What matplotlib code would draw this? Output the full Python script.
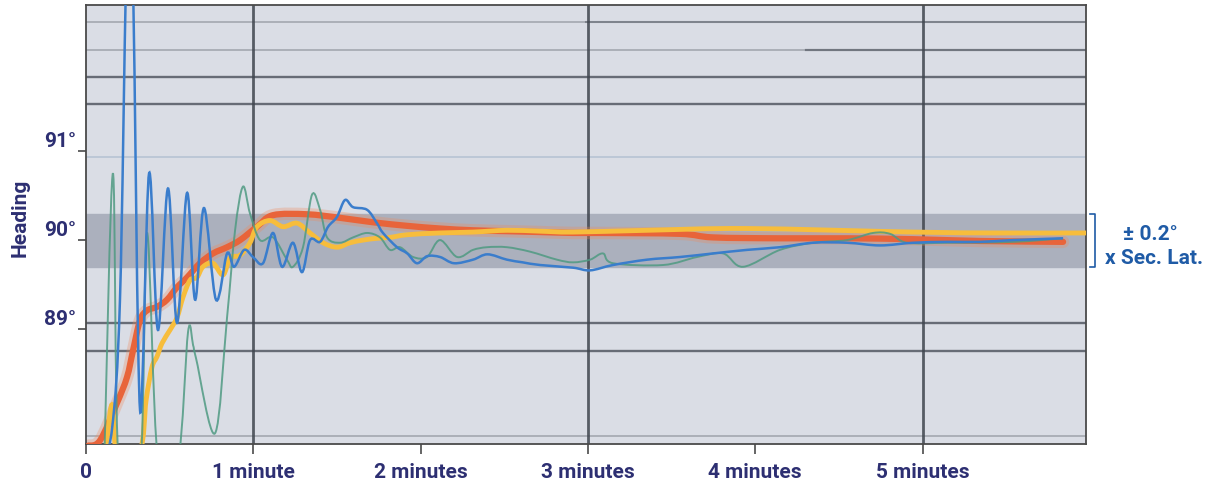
import numpy as np
import matplotlib
matplotlib.use('Agg')
import matplotlib.pyplot as plt
from matplotlib.path import Path
from matplotlib.patches import PathPatch

# heading traces, time in minutes, heading in degrees
red_t = [0.012, 0.084, 0.185, 0.245, 0.281, 0.323, 0.365, 0.424, 0.484, 0.544, 0.604, 0.681, 0.759, 0.843, 0.921,
         1.022, 1.118, 1.321, 1.518, 1.715, 1.919, 2.116, 2.313, 2.516, 2.714, 2.911, 3.072, 3.551, 3.748, 4.148,
         4.549, 4.943, 5.344, 5.840]
red_h = [87.69, 87.75, 88.17, 88.46, 88.76, 89.10, 89.21, 89.25, 89.33, 89.47, 89.58, 89.74, 89.85, 89.92, 90.00,
         90.15, 90.28, 90.29, 90.25, 90.20, 90.16, 90.13, 90.11, 90.10, 90.09, 90.08, 90.08, 90.07, 90.03, 90.02,
         90.02, 90.01, 89.99, 89.98]

yel_t = [0.114, 0.155, 0.191, 0.323, 0.359, 0.394, 0.424, 0.454, 0.502, 0.544, 0.580, 0.622, 0.663, 0.699, 0.759,
         0.819, 0.861, 0.921, 0.980, 1.022, 1.100, 1.178, 1.261, 1.339, 1.417, 1.500, 1.578, 1.656, 1.739, 1.817,
         1.919, 2.116, 2.313, 2.516, 2.714, 2.911, 3.353, 3.951, 4.943, 5.463, 5.977]
yel_h = [87.53, 88.15, 87.53, 87.64, 88.20, 88.57, 88.69, 88.84, 88.99, 89.13, 89.36, 89.55, 89.58, 89.70, 89.74,
         89.61, 89.80, 89.83, 89.97, 90.15, 90.22, 90.15, 90.19, 90.08, 89.97, 89.92, 89.97, 90.00, 90.02, 90.03,
         90.06, 90.08, 90.09, 90.11, 90.10, 90.09, 90.11, 90.13, 90.09, 90.08, 90.08]

grn_t = [0.108, 0.161, 0.197, 0.323, 0.365, 0.430, 0.550, 0.610, 0.640, 0.658, 0.771, 0.843, 0.891, 0.938, 0.980,
         1.040, 1.118, 1.201, 1.237, 1.297, 1.351, 1.399, 1.441, 1.518, 1.596, 1.680, 1.757, 1.817, 1.877, 1.955,
         2.038, 2.116, 2.218, 2.313, 2.397, 2.516, 2.654, 2.815, 2.911, 3.013, 3.090, 3.150, 3.449, 3.652, 3.808,
         3.927, 4.148, 4.346, 4.549, 4.704, 4.806, 4.907, 5.146, 5.541, 5.840]
grn_h = [87.42, 90.75, 87.42, 87.42, 90.08, 87.53, 87.53, 88.97, 88.82, 88.67, 87.83, 89.13, 90.11, 90.60, 90.30,
         90.00, 90.03, 89.78, 89.70, 89.92, 90.51, 90.34, 90.03, 89.97, 90.03, 90.08, 90.03, 89.89, 89.92, 89.81,
         89.81, 90.00, 89.81, 89.89, 89.92, 89.92, 89.87, 89.78, 89.75, 89.78, 89.85, 89.74, 89.72, 89.81, 89.85,
         89.70, 89.89, 89.97, 90.00, 90.08, 90.07, 89.97, 89.97, 89.98, 90.02]

blu_t = [0.084, 0.155, 0.203, 0.239, 0.257, 0.281, 0.323, 0.377, 0.430, 0.490, 0.544, 0.604, 0.652, 0.705, 0.777,
         0.843, 0.885, 0.945, 0.998, 1.058, 1.118, 1.172, 1.237, 1.291, 1.339, 1.399, 1.447, 1.500, 1.548, 1.596,
         1.680, 1.739, 1.775, 1.859, 1.920, 1.978, 2.040, 2.116, 2.200, 2.313, 2.400, 2.516, 2.610, 2.714, 2.911,
         3.013, 3.150, 3.353, 3.551, 3.748, 3.951, 4.148, 4.346, 4.549, 4.746, 4.943, 5.146, 5.344, 5.541, 5.840]
blu_h = [87.42, 87.87, 89.33, 92.92, 93.60, 92.92, 88.09, 90.75, 88.99, 90.58, 89.07, 90.53, 89.33, 90.36, 89.33,
         89.85, 89.70, 89.89, 89.81, 89.74, 90.08, 89.70, 89.97, 89.64, 90.00, 89.98, 90.15, 90.26, 90.45, 90.37,
         90.34, 90.19, 90.08, 89.92, 89.85, 89.74, 89.82, 89.81, 89.74, 89.78, 89.84, 89.78, 89.75, 89.72, 89.69,
         89.66, 89.72, 89.78, 89.81, 89.85, 89.89, 89.92, 89.97, 89.97, 89.94, 89.97, 89.98, 89.98, 90.00, 90.02]

# tolerance band and the screen grid in the photo
band = (89.70, 90.29)
hlines_dark = [91.83, 91.53, 89.07, 88.75]
hlines_light = [92.45, 92.13, 87.80]
vlines = [1, 3, 5]

x_ticks = [0, 1, 2, 3, 4, 5]
x_labels = ['0', '1 minute', '2 minutes', '3 minutes', '4 minutes', '5 minutes']
y_ticks = [89, 90, 91]
y_labels = ['89°', '90°', '91°']

navy = '#2d2f72'
blue_txt = '#1f5ba6'


def smooth_path(t, h):
    # catmull-rom through the read points, drawn as cubic bezier segments
    p = np.column_stack([t, h])
    p = np.vstack([p[0], p, p[-1]])
    verts = [p[1]]
    codes = [Path.MOVETO]
    for i in range(1, len(p) - 2):
        c1 = p[i] + (p[i + 1] - p[i - 1]) / 6
        c2 = p[i + 1] - (p[i + 2] - p[i]) / 6
        verts += [c1, c2, p[i + 1]]
        codes += [Path.CURVE4] * 3
    return Path(verts, codes)


plt.rcParams['font.family'] = ['Roboto', 'DejaVu Sans']
fig = plt.figure(figsize=(12.15, 4.86), dpi=100)
ax = fig.add_axes([86 / 1215, 1 - 444 / 486, 1000 / 1215, 439 / 486])
ax.set_facecolor('#dadde5')
ax.set_xlim(0, 5.977)
ax.set_ylim(87.71, 92.64)

ax.axhspan(band[0], band[1], color='#abb0bd', zorder=0)
for y in hlines_dark:
    ax.axhline(y, color='#4a505a', lw=1.7, alpha=0.8, zorder=1)
for y in hlines_light:
    ax.axhline(y, color='#4a505a', lw=1.3, alpha=0.35, zorder=1)
ax.axhline(hlines_light[0], xmin=0.5, color='#4a505a', lw=1.5, alpha=0.45, zorder=1)
ax.axhline(hlines_light[1], xmin=0.72, color='#4a505a', lw=1.6, alpha=0.6, zorder=1)
ax.axhline(90.93, color='#9fb2c8', lw=1.2, alpha=0.6, zorder=1)
for x in vlines:
    ax.axvline(x, color='#3f454e', lw=2, alpha=0.85, zorder=1)

ax.add_patch(PathPatch(smooth_path(red_t, red_h), fill=False, edgecolor='#f08a5a', lw=9, alpha=0.3,
                       capstyle='round', zorder=2))
ax.add_patch(PathPatch(smooth_path(red_t, red_h), fill=False, edgecolor='#e8643a', lw=4.5,
                       capstyle='round', zorder=3))
ax.add_patch(PathPatch(smooth_path(yel_t, yel_h), fill=False, edgecolor='#f7bd3c', lw=3.5,
                       capstyle='round', zorder=4))
ax.add_patch(PathPatch(smooth_path(grn_t, grn_h), fill=False, edgecolor='#4f9a82', lw=1.4, alpha=0.85,
                       zorder=5))
ax.add_patch(PathPatch(smooth_path(blu_t, blu_h), fill=False, edgecolor='#3a7dcc', lw=1.8, zorder=6))

for s in ax.spines.values():
    s.set_color('#4a4a4a')
    s.set_linewidth(1.3)

ax.set_xticks(x_ticks)
ax.set_xticklabels(x_labels)
ax.set_yticks(y_ticks)
ax.set_yticklabels(y_labels)
ax.tick_params(axis='x', length=7, width=1.2, color='#4a4a4a', pad=7, labelsize=15, labelcolor=navy)
ax.tick_params(axis='y', length=6, width=1.2, color='#4a4a4a', pad=1, labelsize=15, labelcolor=navy)
for lab in ax.get_xticklabels() + ax.get_yticklabels():
    lab.set_fontweight('bold')
for lab in ax.get_yticklabels():
    lab.set_va('bottom')

fig.text(20 / 1215, 1 - 218 / 486, 'Heading', rotation=90, ha='center', va='center',
         color=navy, fontsize=15, fontweight='bold')

# bracket for the tolerance band
ax.plot([6.0, 6.03, 6.03, 6.0], [band[1], band[1], band[0], band[0]], color=blue_txt, lw=1.2,
        clip_on=False)
fig.text(1150 / 1215, 1 - 234 / 486, '± 0.2°', ha='center', va='center', color=blue_txt,
         fontsize=15, fontweight='bold')
fig.text(1154 / 1215, 1 - 258 / 486, 'x Sec. Lat.', ha='center', va='center', color=blue_txt,
         fontsize=15, fontweight='bold')

fig.savefig('out.png', dpi=100)
